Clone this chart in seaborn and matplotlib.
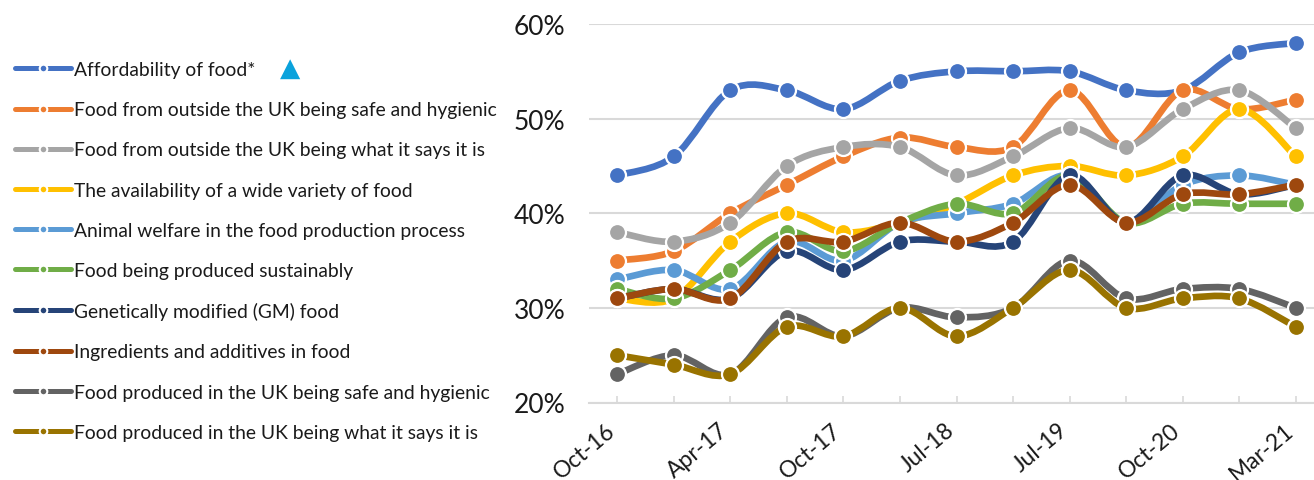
import numpy as np
import pandas as pd
import seaborn as sns
import matplotlib.pyplot as plt
import matplotlib.transforms as mtransforms
from matplotlib.path import Path
from matplotlib.patches import PathPatch
from matplotlib.lines import Line2D
from matplotlib.ticker import PercentFormatter

# survey waves (only every second one is labelled on the axis)
waves = ['Oct-16', 'Jan-17', 'Apr-17', 'Jul-17', 'Oct-17', 'Jan-18', 'Jul-18',
         'Jan-19', 'Jul-19', 'Jan-20', 'Oct-20', 'Dec-20', 'Mar-21']

series_names = [
    'Affordability of food*',
    'Food from outside the UK being safe and hygienic',
    'Food from outside the UK being what it says it is',
    'The availability of a wide variety of food',
    'Animal welfare in the food production process',
    'Food being produced sustainably',
    'Genetically modified (GM) food',
    'Ingredients and additives in food',
    'Food produced in the UK being safe and hygienic',
    'Food produced in the UK being what it says it is',
]

affordability = [44, 46, 53, 53, 51, 54, 55, 55, 55, 53, 53, 57, 58]
outside_safe = [35, 36, 40, 43, 46, 48, 47, 47, 53, 47, 53, 51, 52]
outside_what = [38, 37, 39, 45, 47, 47, 44, 46, 49, 47, 51, 53, 49]
variety = [31, 31, 37, 40, 38, 39, 41, 44, 45, 44, 46, 51, 46]
animal_welfare = [33, 34, 32, 37, 35, 39, 40, 41, 44, 39, 43, 44, 43]
sustainable = [32, 31, 34, 38, 36, 39, 41, 40, 44, 39, 41, 41, 41]
gm_food = [31, 32, 31, 36, 34, 37, 37, 37, 44, 39, 44, 42, 43]
ingredients = [31, 32, 31, 37, 37, 39, 37, 39, 43, 39, 42, 42, 43]
uk_safe = [23, 25, 23, 29, 27, 30, 29, 30, 35, 31, 32, 32, 30]
uk_what = [25, 24, 23, 28, 27, 30, 27, 30, 34, 30, 31, 31, 28]

all_values = [affordability, outside_safe, outside_what, variety, animal_welfare,
              sustainable, gm_food, ingredients, uk_safe, uk_what]

colors = ['#4472C4', '#ED7D31', '#A5A5A5', '#FFC000', '#5B9BD5',
          '#70AD47', '#264478', '#9E480E', '#636363', '#997300']

rows = []
for name, vals in zip(series_names, all_values):
    for i, v in enumerate(vals):
        rows.append({'series': name, 'wave': i, 'pct': v})
df = pd.DataFrame(rows)


def smooth_path(x, y):
    # excel style smoothed line: cubic bezier through every point
    x = np.asarray(x, float)
    y = np.asarray(y, float)
    n = len(x)
    verts = [(x[0], y[0])]
    codes = [Path.MOVETO]
    for i in range(n - 1):
        i0 = max(i - 1, 0)
        i3 = min(i + 2, n - 1)
        c1 = (x[i] + (x[i + 1] - x[i0]) / 6, y[i] + (y[i + 1] - y[i0]) / 6)
        c2 = (x[i + 1] - (x[i3] - x[i]) / 6, y[i + 1] - (y[i3] - y[i]) / 6)
        verts += [c1, c2, (x[i + 1], y[i + 1])]
        codes += [Path.CURVE4] * 3
    return Path(verts, codes)


sns.set_theme(style='white')
plt.rcParams['font.family'] = ['Lato', 'DejaVu Sans']

fig = plt.figure(figsize=(13.14, 4.81), dpi=100)
ax = fig.add_axes([589 / 1314, 1 - 403.5 / 481, (1324 - 589) / 1314, (403.5 - 25) / 481])

for k, name in enumerate(series_names):
    sub = df[df['series'] == name]
    patch = PathPatch(smooth_path(sub['wave'], sub['pct']), facecolor='none',
                      edgecolor=colors[k], lw=4.8, capstyle='round',
                      joinstyle='round', zorder=2 + 2 * k)
    ax.add_patch(patch)
    sns.scatterplot(data=sub, x='wave', y='pct', color=colors[k], s=150,
                    edgecolor='white', linewidth=1.6, ax=ax, zorder=3 + 2 * k,
                    legend=False)

ax.set_xlim(-0.5, len(waves) - 0.5)
ax.set_ylim(20, 60)
ax.set_yticks([20, 30, 40, 50, 60])
ax.yaxis.set_major_formatter(PercentFormatter(decimals=0))
ax.set_xticks(range(len(waves)))
ax.set_xticklabels([w if i % 2 == 0 else '' for i, w in enumerate(waves)],
                   rotation=40, ha='right', va='top', rotation_mode='anchor')
ax.set_xlabel('')
ax.set_ylabel('')
ax.grid(axis='y', color='#D9D9D9', lw=1.5)
ax.set_axisbelow(True)
for s in ['top', 'right', 'left']:
    ax.spines[s].set_visible(False)
ax.spines['bottom'].set_color('#D9D9D9')
ax.spines['bottom'].set_linewidth(1.5)
ax.tick_params(axis='x', direction='in', length=5, width=1.2, color='#D9D9D9',
               labelsize=16.5, pad=12, labelcolor='#1a1a1a', bottom=True)
ax.tick_params(axis='y', length=0, labelsize=19, pad=17, labelcolor='#1a1a1a')

# nudge rotated labels left (after tick_params, which resets the transform)
shift = mtransforms.ScaledTranslation(-0.12, 0, fig.dpi_scale_trans)
for tick in ax.xaxis.get_major_ticks():
    tick.label1.set_transform(tick.label1.get_transform() + shift)

handles = [Line2D([], [], color=c, lw=3.6, marker='o', ms=5.5, mec='white', mew=1.5)
           for c in colors]
fig.legend(handles, series_names, loc='upper left', bbox_to_anchor=(-0.002, 0.907),
           frameon=False, fontsize=13.9, handlelength=2.9, handletextpad=0.16,
           labelspacing=1.2, borderaxespad=0.5, labelcolor='#1a1a1a')

fig.text(290 / 1314, 1 - 69 / 481, '\u25B2', color='#0AA2DC', fontsize=19,
         ha='center', va='center', family=['DejaVu Sans'])

fig.savefig('out.png', dpi=100)
